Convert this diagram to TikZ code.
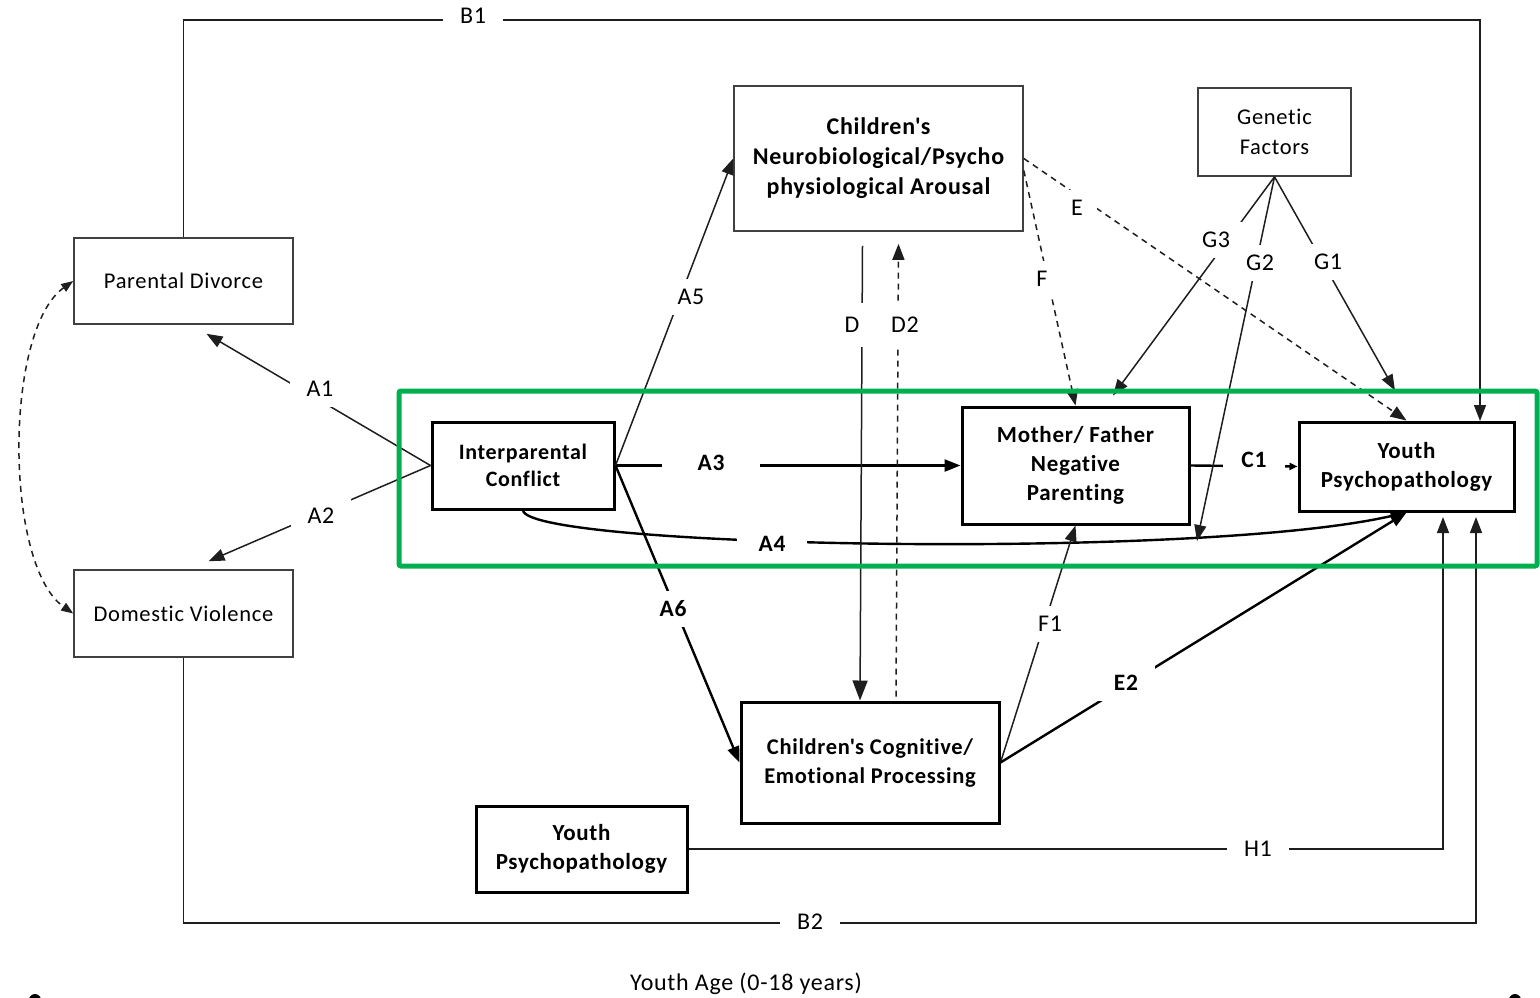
\documentclass[tikz,border=0pt]{standalone}
\usepackage{fontspec}
\setmainfont{Carlito}[LetterSpace=3, Ligatures={NoCommon}]
\usetikzlibrary{arrows.meta,calc}
\definecolor{hl}{RGB}{0,176,80}
\definecolor{ink}{RGB}{30,30,30}
\newcommand{\apo}{\textquotesingle}
\begin{document}
\begin{tikzpicture}[x=1pt,y=-1pt,
  thinbox/.style={draw=ink!85, line width=1.6pt, align=center, inner sep=0pt,
    font=\fontsize{22.5}{30}\selectfont},
  boldbox/.style={draw=black, line width=3pt, align=center, inner sep=0pt,
    font=\bfseries\fontsize{23}{29}\selectfont},
  thin/.style={line width=1.5pt, draw=ink},
  arr/.style={-{Triangle[length=16pt,width=12pt]}},
  smallarr/.style={-{Triangle[length=8pt,width=7pt]}},
  dsh/.style={dash pattern=on 6pt off 5pt},
  lab/.style={fill=white, inner xsep=17pt, inner ysep=10pt,
    font=\fontsize{24}{26}\selectfont},
  blab/.style={lab, font=\bfseries\fontsize{23.5}{26}\selectfont},
]
\useasboundingbox (0,0) rectangle (1540,997);
\clip (0,0) rectangle (1540,997);

% ---------- boxes ----------
\node[thinbox, minimum width=219pt, minimum height=86pt] (pd) at (183.5,281) {Parental Divorce};
\node[thinbox, minimum width=219pt, minimum height=87pt] (dv) at (183.5,613.5) {Domestic Violence};
\node[boldbox, minimum width=182pt, minimum height=87pt,
  font=\bfseries\fontsize{22}{27}\selectfont] (ic) at (523,465.5) {Interparental\\Conflict};
\node[thinbox, minimum width=289pt, minimum height=145pt,
  font=\bfseries\fontsize{24}{30}\selectfont] (nb) at (878.5,158.5)
  {Children\apo s\\Neurobiological/Psycho\\physiological Arousal};
\node[thinbox, minimum width=153pt, minimum height=88pt] (gf) at (1274.5,132) {Genetic\\Factors};
\node[boldbox, minimum width=227pt, minimum height=117pt] (mf) at (1075.5,465.5)
  {Mother/ Father\\Negative\\Parenting};
\node[boldbox, minimum width=215pt, minimum height=89pt] (yp) at (1406.5,466.5)
  {Youth\\Psychopathology};
\node[boldbox, minimum width=258pt, minimum height=121pt,
  font=\bfseries\fontsize{22.5}{29}\selectfont] (cp) at (870,762.5)
  {Children\apo s Cognitive/\\Emotional Processing};
\node[boldbox, minimum width=211pt, minimum height=86pt] (yb) at (581.5,849)
  {Youth\\Psychopathology};

% ---------- helper points ----------
\coordinate (b1c) at (1480,20);
\coordinate (b1e) at (1480,421);
\coordinate (b2c) at (1476,923);
\coordinate (b2e) at (1476,517);
\coordinate (h1e) at (1443,517);
\coordinate (g2e) at (1197,541);

% ---------- connectors ----------
% long-term paths
\draw[thin,arr] (pd.north) |- (b1c) -- (b1e);
\draw[thin,arr] (dv.south) |- (b2c) -- (b2e);
\draw[thin,arr] (yb.east) -| (h1e);
% correlation between the two family stressors
\draw[thin,dsh,{Triangle[length=12pt,width=9pt]}-{Triangle[length=12pt,width=9pt]}]
  (pd.west) .. controls (4,330) and (4,565) .. (dv.west);
% A paths
\draw[thin,arr] (ic.west) -- ([xshift=23pt,yshift=-9pt]pd.south);
\draw[thin,arr] (ic.west) -- ([xshift=25pt,yshift=8pt]dv.north);
\draw[line width=2.4pt,arr] (ic.east) -- (mf.west);
\draw[line width=2.4pt,arr] (ic.south) .. controls (530,548) and (1200,560) .. (yp.south);
\draw[thin,arr] (ic.east) -- (nb.west);
\draw[line width=2.4pt,arr] (ic.east) -- (cp.west);
% D paths
\draw[thin,-{Triangle[length=20pt,width=15pt]}] ([xshift=-16pt,yshift=-14pt]nb.south) -- ([xshift=-10pt]cp.north);
\draw[thin,dsh,arr] ([xshift=26pt,yshift=4pt]cp.north) -- ([xshift=20pt,yshift=-12pt]nb.south);
% E, F paths
\draw[thin,dsh,arr] (nb.east) -- (yp.north);
\draw[thin,dsh,arr] ([yshift=-12pt]nb.east) -- (mf.north);
\draw[thin,arr] (cp.east) -- (mf.south);
\draw[line width=2.4pt,arr] (cp.east) -- (yp.south);
% C1
\draw[line width=2.4pt,smallarr] (mf.east) -- (yp.west);
% genetic paths
\draw[thin,arr] (gf.south) -- ([xshift=-11.5pt,yshift=30pt]yp.north);
\draw[thin,arr] (gf.south) -- (g2e);
\draw[thin,arr] (gf.south) -- ([xshift=37.5pt,yshift=10pt]mf.north);

% ---------- path labels ----------
\node[lab] (lb1) at (473,16) {B1};
\node[lab] (lb2) at (810,922) {B2};
\node[lab] (lh1) at (1258,849) {H1};
\node[lab] (la1) at (320,389) {A1};
\node[lab] (la2) at (321,516) {A2};
\node[blab, inner xsep=36pt] (la3) at (711,463) {A3};
\node[blab, inner xsep=22pt] (la4) at (772,544) {A4};
\node[lab] (la5) at (691,297) {A5};
\node[blab] (la6) at (673,609) {A6};
\node[lab, inner ysep=14pt] (ld) at (852,325) {D};
\node[lab, inner xsep=10pt, inner ysep=14pt] (ld2) at (905,325) {D2};
\node[lab, inner xsep=14pt] (le) at (1077,208) {E};
\node[lab, inner xsep=14pt] (lf) at (1042,279) {F};
\node[lab] (lf1) at (1050,624) {F1};
\node[blab] (le2) at (1126,683) {E2};
\node[blab, inner xsep=18pt] (lc1) at (1254,460) {C1};
\node[lab, inner xsep=12pt] (lg3) at (1216,240) {G3};
\node[lab, inner xsep=10pt] (lg2) at (1260,263) {G2};
\node[lab, inner xsep=10pt] (lg1) at (1328,262) {G1};

% ---------- axis caption ----------
\node[font=\fontsize{24}{26}\selectfont] (age) at (746,984) {Youth Age (0-18 years)};
\fill (35,1000) circle (6pt);
\fill (1515,1000) circle (6pt);

% ---------- highlight frame ----------
\draw[hl, line width=5pt, rounded corners=2pt] (399,391) rectangle (1537,566);
\end{tikzpicture}
\end{document}
